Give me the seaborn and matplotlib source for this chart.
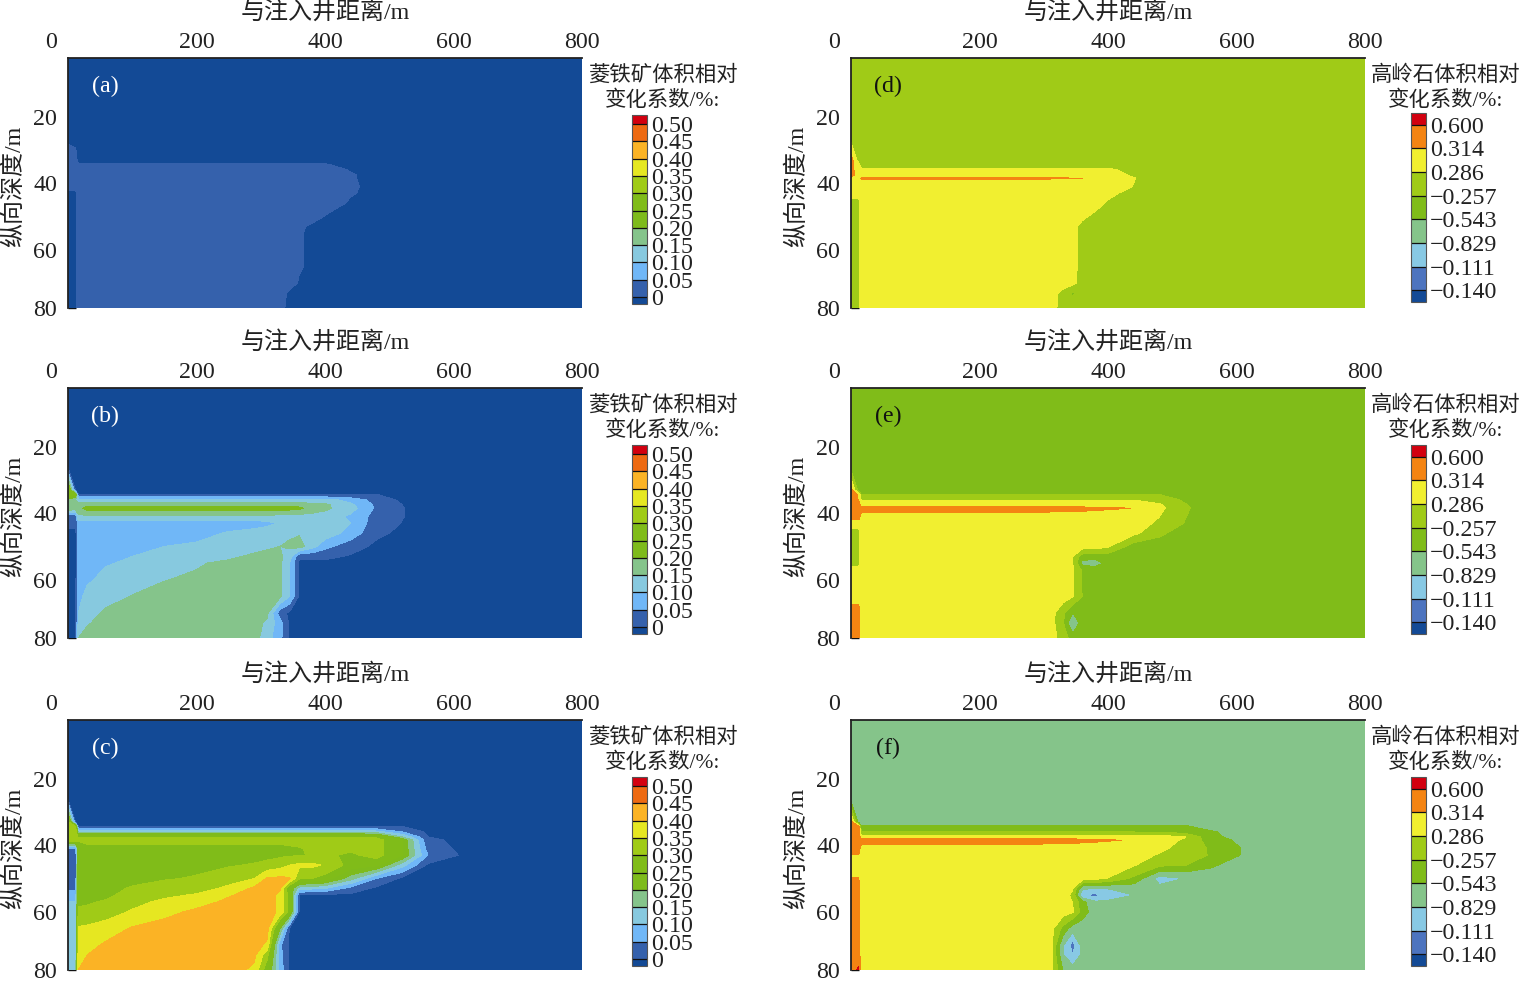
import numpy as np
import seaborn as sns
from matplotlib import pyplot as plt

# grid of the simulated section (m)
distance = [0, 12, 16, 30, 60, 100, 150, 200, 250, 290, 310, 330, 345, 360, 380, 400, 440, 480, 520, 560, 610, 800]
depth = [2.4, 26, 33, 34.5, 36, 37.5, 38.5, 41, 43, 46, 50, 53, 55, 57, 60, 65, 70, 73, 77.5]

# siderite, values in 0.01
siderite_a = [
    [-1, -1, -1, -1, -1, -1, -1, -1, -1, -1, -1, -1, -1, -1, -1, -1, -1, -1, -1, -1, -1, -1],
    [-1, -1, -1, -1, -1, -1, -1, -1, -1, -1, -1, -1, -1, -1, -1, -1, -1, -1, -1, -1, -1, -1],
    [2, 1, -1, -1, -1, -1, -1, -1, -1, -1, -1, -1, -1, -1, -1, -1, -1, -1, -1, -1, -1, -1],
    [2, 2, .3, .3, .3, .3, .3, .3, .3, .3, .3, .3, .3, .3, .3, .3, -1, -1, -1, -1, -1, -1],
    [2, 2, 2, 2, 2, 2, 2, 2, 2, 2, 2, 2, 2, 2, 2, 2, -.3, -1, -1, -1, -1, -1],
    [2, 2, 2, 2, 2, 2, 2, 2, 2, 2, 2, 2, 2, 2, 2, 2, .3, -1, -1, -1, -1, -1],
    [2, 2, 2, 2, 2, 2, 2, 2, 2, 2, 2, 2, 2, 2, 2, 2, .3, -1, -1, -1, -1, -1],
    [2, 2, 2, 2, 2, 2, 2, 2, 2, 2, 2, 2, 2, 2, 2, 2, .5, -1, -1, -1, -1, -1],
    [-1, -1, 2, 2, 2, 2, 2, 2, 2, 2, 2, 2, 2, 2, 2, 2, .3, -1, -1, -1, -1, -1],
    [-1, -1, 2, 2, 2, 2, 2, 2, 2, 2, 2, 2, 2, 2, 2, 2, -.5, -1, -1, -1, -1, -1],
    [-1, -1, 2, 2, 2, 2, 2, 2, 2, 2, 2, 2, 2, 2, 2, -.2, -1, -1, -1, -1, -1, -1],
    [-1, -1, 2, 2, 2, 2, 2, 2, 2, 2, 2, 2, 2, 1, -1, -1, -1, -1, -1, -1, -1, -1],
    [-1, -1, 2, 2, 2, 2, 2, 2, 2, 2, 2, 2, 2, .5, -1, -1, -1, -1, -1, -1, -1, -1],
    [-1, -1, 2, 2, 2, 2, 2, 2, 2, 2, 2, 2, 2, .5, -1, -1, -1, -1, -1, -1, -1, -1],
    [-1, -1, 2, 2, 2, 2, 2, 2, 2, 2, 2, 2, 2, .5, -1, -1, -1, -1, -1, -1, -1, -1],
    [-1, -1, 2, 2, 2, 2, 2, 2, 2, 2, 2, 2, 2, .5, -1, -1, -1, -1, -1, -1, -1, -1],
    [-1, -1, 2, 2, 2, 2, 2, 2, 2, 2, 2, 2, 2, -.5, -1, -1, -1, -1, -1, -1, -1, -1],
    [-1, -1, 2, 2, 2, 2, 2, 2, 2, 2, 2, 2, -1, -1, -1, -1, -1, -1, -1, -1, -1, -1],
    [-1, -1, 2, 2, 2, 2, 2, 2, 2, 2, 2, 1, -1, -1, -1, -1, -1, -1, -1, -1, -1, -1],
]
siderite_b = [
    [-1, -1, -1, -1, -1, -1, -1, -1, -1, -1, -1, -1, -1, -1, -1, -1, -1, -1, -1, -1, -1, -1],
    [-1, -1, -1, -1, -1, -1, -1, -1, -1, -1, -1, -1, -1, -1, -1, -1, -1, -1, -1, -1, -1, -1],
    [30, -1, -1, -1, -1, -1, -1, -1, -1, -1, -1, -1, -1, -1, -1, -1, -1, -1, -1, -1, -1, -1],
    [30, 25, .1, .1, .1, .1, .1, .1, .1, .1, .1, .1, .1, .1, .1, .1, .1, .1, -1, -1, -1, -1],
    [18, 15, 12, 12, 12, 12, 12, 12, 12, 12, 12, 12, 12, 12, 12, 12, 8, 3, -1, -1, -1, -1],
    [20, 18, 18, 18, 18, 18, 18, 18, 18, 18, 18, 18, 18, 18, 16, 16, 11, 4, 0, -1, -1, -1],
    [20, 18, 18, 22, 22, 22, 22, 22, 22, 22, 22, 22, 22, 21, 18, 16, 12, 4, .1, -1, -1, -1],
    [1, 1, 14, 14, 14, 14, 14, 14, 14, 14, 14, 13, 13, 13, 13, 13, 9, 3, .1, -1, -1, -1],
    [1, 1, 7.5, 7.5, 7.5, 7.5, 7.5, 7.5, 7.5, 7.5, 8.5, 10.5, 11, 11.5, 12, 12, 10, 2, -.1, -1, -1, -1],
    [-1, -1, 7, 7, 7, 7, 7.5, 8, 10.5, 12, 13, 14, 14, 14.5, 14, 13, 8, 1, -1, -1, -1, -1],
    [-1, -1, 7, 7, 7.5, 8.5, 10, 11, 12, 13, 14, 15, 16, 17, 12, 6.5, 2, -1, -1, -1, -1, -1],
    [-1, -1, 6, 6.5, 8, 10, 12, 13, 14, 16, 17, 16, 12, 1, 1, 1, -.5, -1, -1, -1, -1, -1],
    [-1, -1, 6.5, 7.5, 9.5, 11, 13, 14.5, 16, 17, 17, 16, 10, -1, -1, -1, -1, -1, -1, -1, -1, -1],
    [-1, -1, 7, 8, 10.5, 12, 14, 15, 17, 17, 17, 16, 10, -1, -1, -1, -1, -1, -1, -1, -1, -1],
    [-1, -1, 8, 9.5, 11, 13, 14.8, 16, 17, 17, 17, 16, 10, -1, -1, -1, -1, -1, -1, -1, -1, -1],
    [-1, -1, 9, 11, 13, 15.2, 17, 17, 17, 17, 17, 16, 10, -1, -1, -1, -1, -1, -1, -1, -1, -1],
    [-1, -1, 10, 13, 16, 17, 17, 17, 17, 17, 16, 2, -1, -1, -1, -1, -1, -1, -1, -1, -1, -1],
    [-1, -1, 11, 14.5, 17, 17, 17, 17, 17, 17, 14, 7, -1, -1, -1, -1, -1, -1, -1, -1, -1, -1],
    [-1, -1, 15, 17, 17, 17, 17, 17, 17, 17, 12, 6.5, -1, -1, -1, -1, -1, -1, -1, -1, -1, -1],
]
siderite_c = [
    [-1, -1, -1, -1, -1, -1, -1, -1, -1, -1, -1, -1, -1, -1, -1, -1, -1, -1, -1, -1, -1, -1],
    [-1, -1, -1, -1, -1, -1, -1, -1, -1, -1, -1, -1, -1, -1, -1, -1, -1, -1, -1, -1, -1, -1],
    [32, -1, -1, -1, -1, -1, -1, -1, -1, -1, -1, -1, -1, -1, -1, -1, -1, -1, -1, -1, -1, -1],
    [33, 32, .1, .1, .1, .1, .1, .1, .1, .1, .1, .1, .1, .1, .1, .1, .1, .1, .1, -1, -1, -1],
    [33, 33, 14, 14, 14, 14, 14, 14, 14, 14, 14, 14, 14, 14, 14, 14, 14, 12, 5, -1, -1, -1],
    [33, 33, 29.5, 29.5, 29.5, 29.5, 29.5, 29.5, 29.5, 29.5, 29.5, 29.5, 29.5, 29.5, 29.5, 29.5, 29.5, 29, 15, 0, -1, -1],
    [33, 33, 31, 31, 31, 31, 31, 31, 31, 31, 31, 31, 31, 31, 31, 31, 31, 32, 25, 1, -1, -1],
    [4, 4, 22, 29, 29, 29, 29, 29, 29, 29, 29, 29, 29.5, 29.8, 30.5, 31, 31, 32, 25, 3, -1, -1],
    [2, 2, 26, 28, 28, 28, 28, 28, 28, 28, 28.5, 29, 29.5, 29.5, 30.5, 31, 29, 32, 25, 5, -.3, -1],
    [2, 2, 28, 28, 28, 28, 28, 28.5, 29.5, 30.5, 31.5, 33, 35, 36, 36, 34.5, 28, 26, 12, -1, -1, -1],
    [2, 2, 28, 28, 28, 28.5, 29.5, 30.5, 33, 35, 40.5, 41, 40.5, 31, 30, 28, 17, 5, -1, -1, -1, -1],
    [4, 4, 28, 28, 28.5, 30.5, 32.5, 33, 36, 41, 41, 40.5, 25, 12, 11, 10, 3, -1, -1, -1, -1, -1],
    [8, 8, 28.5, 28.5, 29, 32, 34, 35.5, 39.5, 42, 42, 39, 27, -.5, -1, -1, -1, -1, -1, -1, -1, -1],
    [10, 10, 29, 29.5, 30.5, 33.5, 36, 38, 41, 42, 42, 39, 27, -.5, -1, -1, -1, -1, -1, -1, -1, -1],
    [12, 12, 31, 31, 33, 35.5, 38.5, 41, 42, 42, 42, 39, 27, -.5, -1, -1, -1, -1, -1, -1, -1, -1],
    [12, 12, 35.5, 36, 37, 40.5, 42, 42, 42, 42, 42, 20, -1, -1, -1, -1, -1, -1, -1, -1, -1, -1],
    [12, 12, 37, 38, 41, 42, 42, 42, 42, 42, 39, 6, -1, -1, -1, -1, -1, -1, -1, -1, -1, -1],
    [12, 12, 38, 40, 42, 42, 42, 42, 42, 41, 32, 7, -1, -1, -1, -1, -1, -1, -1, -1, -1, -1],
    [12, 12, 40, 41.5, 42, 42, 42, 42, 42, 39, 26, 8, -1, -1, -1, -1, -1, -1, -1, -1, -1, -1],
]

# kaolinite, values in 0.001
kaolinite_d = [
    [-100, -100, -100, -100, -100, -100, -100, -100, -100, -100, -100, -100, -100, -100, -100, -100, -100, -100, -100, -100, -100, -100],
    [-100, -100, -100, -100, -100, -100, -100, -100, -100, -100, -100, -100, -100, -100, -100, -100, -100, -100, -100, -100, -100, -100],
    [450, -100, -100, -100, -100, -100, -100, -100, -100, -100, -100, -100, -100, -100, -100, -100, -100, -100, -100, -100, -100, -100],
    [450, 100, -100, -100, -100, -100, -100, -100, -100, -100, -100, -100, -100, -100, -100, -100, -100, -100, -100, -100, -100, -100],
    [450, 100, 100, 100, 100, 100, 100, 100, 100, 100, 100, 100, 100, 100, 100, 100, -100, -100, -100, -100, -100, -100],
    [450, 120, 170, 170, 170, 170, 170, 170, 170, 170, 170, 170, 170, 170, 170, 170, -20, -100, -100, -100, -100, -100],
    [300, 170, 340, 340, 340, 340, 340, 340, 340, 340, 330, 325, 320, 316, 170, 170, 40, -100, -100, -100, -100, -100],
    [170, 170, 170, 170, 170, 170, 170, 170, 170, 170, 170, 170, 170, 170, 170, 170, 20, -100, -100, -100, -100, -100],
    [170, 170, 170, 170, 170, 170, 170, 170, 170, 170, 170, 170, 170, 170, 170, 120, -100, -100, -100, -100, -100, -100],
    [-100, -100, 170, 170, 170, 170, 170, 170, 170, 170, 170, 170, 170, 170, 170, -20, -100, -100, -100, -100, -100, -100],
    [-100, -100, 170, 170, 170, 170, 170, 170, 170, 170, 170, 170, 170, 100, -60, -100, -100, -100, -100, -100, -100, -100],
    [-100, -100, 170, 170, 170, 170, 170, 170, 170, 170, 170, 170, 120, -70, -100, -100, -100, -100, -100, -100, -100, -100],
    [-100, -100, 170, 170, 170, 170, 170, 170, 170, 170, 170, 170, 120, -70, -270, -100, -100, -100, -100, -100, -100, -100],
    [-100, -100, 170, 170, 170, 170, 170, 170, 170, 170, 170, 170, 120, -70, -100, -100, -100, -100, -100, -100, -100, -100],
    [-100, -100, 170, 170, 170, 170, 170, 170, 170, 170, 170, 170, 120, -70, -100, -100, -100, -100, -100, -100, -100, -100],
    [-100, -100, 170, 170, 170, 170, 170, 170, 170, 170, 170, 170, 120, -70, -100, -100, -100, -100, -100, -100, -100, -100],
    [-100, -100, 170, 170, 170, 170, 170, 170, 170, 170, 170, 170, 100, -100, -100, -100, -100, -100, -100, -100, -100, -100],
    [-100, -100, 170, 170, 170, 170, 170, 170, 170, 170, 170, -60, -300, -100, -100, -100, -100, -100, -100, -100, -100, -100],
    [-100, -100, 170, 170, 170, 170, 170, 170, 170, 170, 170, -100, -100, -100, -100, -100, -100, -100, -100, -100, -100, -100],
]
kaolinite_e = [
    [-400, -400, -400, -400, -400, -400, -400, -400, -400, -400, -400, -400, -400, -400, -400, -400, -400, -400, -400, -400, -400, -400],
    [-400, -400, -400, -400, -400, -400, -400, -400, -400, -400, -400, -400, -400, -400, -400, -400, -400, -400, -400, -400, -400, -400],
    [450, -400, -400, -400, -400, -400, -400, -400, -400, -400, -400, -400, -400, -400, -400, -400, -400, -400, -400, -400, -400, -400],
    [450, 300, -250, -250, -250, -250, -250, -250, -250, -250, -250, -250, -250, -250, -250, -250, -250, -250, -400, -400, -400, -400],
    [450, 300, 20, 20, 20, 20, 20, 20, 20, 20, 20, 20, 20, 20, 20, 20, 20, -100, -300, -400, -400, -400],
    [450, 450, 200, 200, 200, 200, 200, 200, 200, 200, 200, 200, 200, 200, 200, 200, 170, 70, -240, -400, -400, -400],
    [450, 450, 450, 450, 450, 450, 450, 450, 450, 430, 410, 400, 390, 380, 360, 340, 310, 100, -220, -400, -400, -400],
    [450, 450, 200, 200, 200, 200, 200, 200, 200, 200, 200, 200, 200, 200, 200, 200, 170, 30, -250, -400, -400, -400],
    [170, 170, 170, 170, 170, 170, 170, 170, 170, 170, 170, 170, 170, 170, 170, 170, 100, 0, -270, -400, -400, -400],
    [-100, -100, 170, 170, 170, 170, 170, 170, 170, 170, 170, 170, 170, 170, 170, 170, 100, -200, -400, -400, -400, -400],
    [-100, -100, 170, 170, 170, 170, 170, 170, 170, 170, 170, 170, 170, 170, 170, 60, -400, -400, -400, -400, -400, -400],
    [-100, -100, 170, 170, 170, 170, 170, 170, 170, 170, 170, 170, 40, -400, -400, -400, -400, -400, -400, -400, -400, -400],
    [-100, -100, 170, 170, 170, 170, 170, 170, 170, 170, 170, 170, 40, -650, -700, -450, -400, -400, -400, -400, -400, -400],
    [170, 170, 170, 170, 170, 170, 170, 170, 170, 170, 170, 170, 50, -300, -400, -400, -400, -400, -400, -400, -400, -400],
    [170, 170, 170, 170, 170, 170, 170, 170, 170, 170, 170, 170, 50, -300, -400, -400, -400, -400, -400, -400, -400, -400],
    [170, 170, 170, 170, 170, 170, 170, 170, 170, 170, 170, 170, 50, -260, -400, -400, -400, -400, -400, -400, -400, -400],
    [450, 450, 170, 170, 170, 170, 170, 170, 170, 170, 170, -200, -550, -400, -400, -400, -400, -400, -400, -400, -400, -400],
    [450, 450, 170, 170, 170, 170, 170, 170, 170, 170, 170, -230, -850, -400, -400, -400, -400, -400, -400, -400, -400, -400],
    [450, 450, 170, 170, 170, 170, 170, 170, 170, 170, 170, -100, -400, -400, -400, -400, -400, -400, -400, -400, -400, -400],
]
kaolinite_f = [
    [-700, -700, -700, -700, -700, -700, -700, -700, -700, -700, -700, -700, -700, -700, -700, -700, -700, -700, -700, -700, -700, -700],
    [-700, -700, -700, -700, -700, -700, -700, -700, -700, -700, -700, -700, -700, -700, -700, -700, -700, -700, -700, -700, -700, -700],
    [450, -700, -700, -700, -700, -700, -700, -700, -700, -700, -700, -700, -700, -700, -700, -700, -700, -700, -700, -700, -700, -700],
    [450, 450, -500, -500, -500, -500, -500, -500, -500, -500, -500, -500, -500, -500, -500, -500, -500, -500, -480, -700, -700, -700],
    [450, 450, -270, -270, -270, -270, -270, -270, -270, -270, -270, -270, -270, -270, -270, -270, -270, -280, -400, -500, -700, -700],
    [450, 450, 200, 200, 200, 200, 200, 200, 200, 200, 200, 200, 200, 200, 200, 200, 180, 150, 40, -450, -700, -700],
    [450, 450, 450, 450, 450, 450, 450, 450, 450, 420, 400, 390, 380, 370, 350, 330, 300, 150, -10, -400, -620, -700],
    [450, 450, 200, 200, 200, 200, 200, 200, 200, 200, 200, 200, 200, 200, 200, 200, 170, 100, -100, -290, -560, -700],
    [300, 300, 170, 170, 170, 170, 170, 170, 170, 170, 170, 170, 170, 170, 170, 170, 150, 0, -120, -280, -570, -700],
    [170, 170, 170, 170, 170, 170, 170, 170, 170, 170, 170, 170, 170, 170, 170, 170, 50, -200, -250, -500, -700, -700],
    [320, 320, 170, 170, 170, 170, 170, 170, 170, 170, 170, 170, 170, 170, 100, 20, -320, -950, -820, -700, -700, -700],
    [450, 450, 170, 170, 170, 170, 170, 170, 170, 170, 170, 170, 60, -780, -830, -820, -730, -750, -700, -700, -700, -700],
    [450, 450, 170, 170, 170, 170, 170, 170, 170, 170, 170, 170, -50, -1120, -1200, -1000, -830, -700, -700, -700, -700, -700],
    [450, 450, 170, 170, 170, 170, 170, 170, 170, 170, 170, 170, 20, -450, -800, -780, -700, -700, -700, -700, -700, -700],
    [450, 450, 170, 170, 170, 170, 170, 170, 170, 170, 170, 170, 60, -400, -700, -700, -700, -700, -700, -700, -700, -700],
    [450, 450, 170, 170, 170, 170, 170, 170, 170, 170, 170, -350, -700, -700, -700, -700, -700, -700, -700, -700, -700, -700],
    [450, 450, 170, 170, 170, 170, 170, 170, 170, 170, 170, -800, -1250, -700, -700, -700, -700, -700, -700, -700, -700, -700],
    [450, 450, 170, 170, 170, 170, 170, 170, 170, 170, 170, -800, -1100, -760, -700, -700, -700, -700, -700, -700, -700, -700],
    [450, 650, 170, 170, 170, 170, 170, 170, 170, 170, 170, -560, -700, -700, -700, -700, -700, -700, -700, -700, -700, -700],
]

# colour scales
siderite_levels = [-0.02, 0, 0.05, 0.10, 0.15, 0.20, 0.25, 0.30, 0.35, 0.40, 0.45, 0.50, 0.526]
siderite_labels = ['0', '0.05', '0.10', '0.15', '0.20', '0.25', '0.30', '0.35', '0.40', '0.45', '0.50']
siderite_colors = ['#134A96', '#3561AC', '#70B7F7', '#87C9DF', '#85C48B', '#7EBB1C', '#80BC19', '#A0CB17', '#E6E721', '#FBB325', '#EE6A12', '#D2000F']
kaolinite_levels = [-1.543, -1.400, -1.114, -0.829, -0.543, -0.257, 0.0286, 0.314, 0.600, 0.743]
kaolinite_labels = ['\u22120.140', '\u22120.111', '\u22120.829', '\u22120.543', '\u22120.257', '0.286', '0.314', '0.600']
kaolinite_colors = ['#134A96', '#4D74BF', '#88C9E4', '#85C48A', '#80BC19', '#A0CB17', '#F1EF30', '#F48412', '#D2000F']

W, H = 1524, 986
FS = 17.3
TITLE_FS = 15.4

sns.set_style('ticks')
plt.rcParams['font.family'] = ['Liberation Serif', 'Noto Sans CJK SC']
plt.rcParams['axes.unicode_minus'] = True


def px_rect(left, top, right, bottom):
    return [left / W, 1 - bottom / H, (right - left) / W, (bottom - top) / H]


def draw_panel(fig, field, scale, levels, colors, cb_labels, letter, letter_color, left, top, cb_left, cb_top, title):
    ax = fig.add_axes(px_rect(left, top, left + 514, top + 250))
    z = np.array(field) * scale
    cs = ax.contourf(distance, depth, z, levels=levels, colors=colors)
    ax.set_xlim(0, 800)
    ax.set_ylim(77.5, 2.4)
    ax.xaxis.tick_top()
    ax.set_xticks([200, 400, 600, 800])
    ax.set_yticks([20, 40, 60, 77.5])
    ax.set_yticklabels(['20', '40', '60', '80'])
    ax.tick_params(direction='in', length=6, width=1, labelsize=FS, color='#111111', labelcolor='#222222')
    ax.tick_params(axis='x', pad=3.4)
    ax.tick_params(axis='y', pad=8)
    sns.despine(ax=ax, top=False, right=True, left=False, bottom=True)
    for s in ['top', 'left']:
        ax.spines[s].set_linewidth(1.3)
        ax.spines[s].set_color('#222222')
    ax.set_xlabel('与注入井距离/m', fontsize=FS, color='#222222', va='center')
    ax.xaxis.set_label_position('top')
    ax.xaxis.set_label_coords(0.5, 1.156)
    ax.set_ylabel('纵向深度/m', fontsize=FS, color='#222222', va='center')
    ax.yaxis.set_label_coords(-0.105, 0.488)
    ax.annotate('0', xy=(0, 1), xycoords='axes fraction', xytext=(-12.2, 11.4), textcoords='offset points',
                ha='center', va='center', fontsize=FS, color='#222222')
    ax.text(0.072, 0.888, '(%s)' % letter, transform=ax.transAxes, ha='center', va='center', fontsize=FS, color=letter_color)

    cax = fig.add_axes(px_rect(cb_left, cb_top, cb_left + 15, cb_top + 189))
    cb = fig.colorbar(cs, cax=cax, ticks=levels[1:-1], drawedges=True, spacing='proportional')
    cb.ax.set_yticklabels(cb_labels)
    cb.ax.tick_params(length=0, pad=3, labelsize=FS, labelcolor='#222222')
    cb.outline.set_edgecolor('#555555')
    cb.outline.set_linewidth(0.8)
    cb.dividers.set_color('#111111')
    cb.dividers.set_linewidth(0.9)

    cx = (left + 514 + 81) / W
    fig.text(cx, 1 - (top + 18) / H, title[0], ha='center', va='center', fontsize=TITLE_FS, color='#222222')
    fig.text(cx, 1 - (top + 43) / H, title[1], ha='center', va='center', fontsize=TITLE_FS, color='#222222')


def main():
    fig = plt.figure(figsize=(W / 100, H / 100), dpi=100)
    tops = [58, 388, 720]
    cb_tops_l = [115, 445, 777]
    cb_tops_r = [113, 445, 777]
    for field, letter, top, cb_top in zip([siderite_a, siderite_b, siderite_c], 'abc', tops, cb_tops_l):
        draw_panel(fig, field, 0.01, siderite_levels, siderite_colors, siderite_labels, letter, 'white',
                   68, top, 632, cb_top, ('菱铁矿体积相对', '变化系数/%:'))
    for field, letter, top, cb_top in zip([kaolinite_d, kaolinite_e, kaolinite_f], 'def', tops, cb_tops_r):
        draw_panel(fig, field, 0.001, kaolinite_levels, kaolinite_colors, kaolinite_labels, letter, '#111111',
                   851, top, 1411, cb_top, ('高岭石体积相对', '变化系数/%:'))
    fig.savefig('out.png', dpi=100, facecolor='white')


if __name__ == "__main__":
    main()
